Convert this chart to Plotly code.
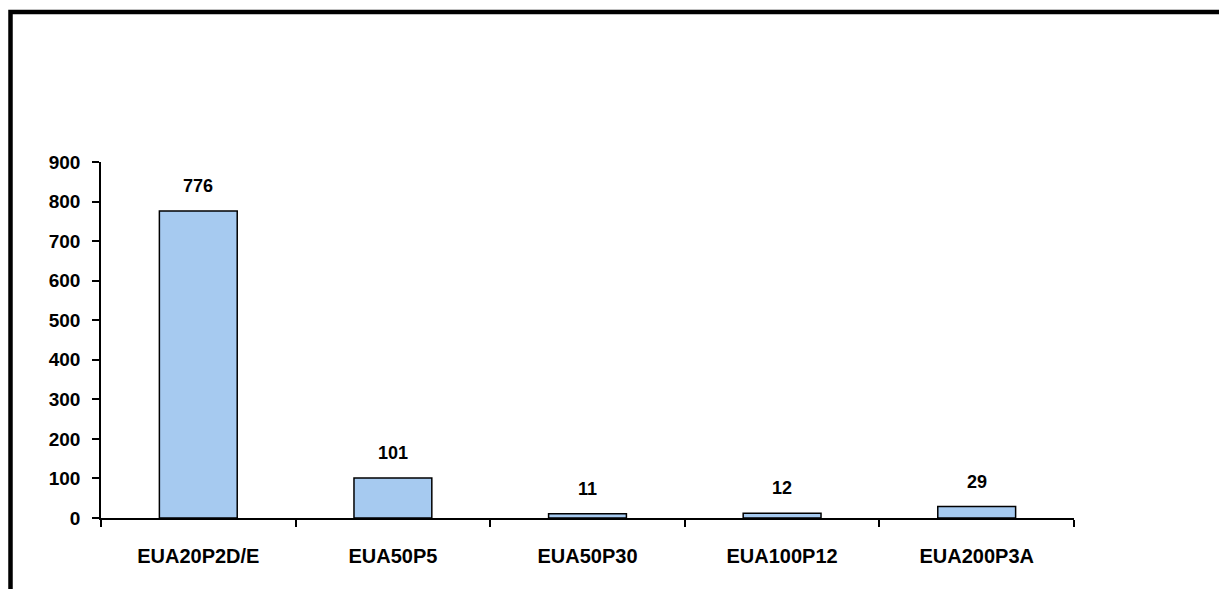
import plotly.graph_objects as go

# Chart data
categories = ["EUA20P2D/E", "EUA50P5", "EUA50P30", "EUA100P12", "EUA200P3A"]
values = [776, 101, 11, 12, 29]
y_ticks = [0, 100, 200, 300, 400, 500, 600, 700, 800, 900]

W, H = 1219, 589
L, R, T, B = 101, 145, 162, 71
FONT = "Arial, Liberation Sans, sans-serif"

fig = go.Figure()
fig.add_trace(go.Bar(
    x=categories,
    y=values,
    width=0.4,
    marker=dict(color="#A6CAF0", line=dict(color="black", width=1.5)),
    hoverinfo="skip",
))

# Value labels above each bar
for c, v in zip(categories, values):
    fig.add_annotation(
        x=c, y=v, text=f"<b>{v}</b>", showarrow=False,
        yanchor="bottom", yshift=13,
        font=dict(family=FONT, size=18, color="black"),
    )

# Outer frame around the chart (left and top edges visible)
plot_w = W - L - R
plot_h = H - T - B
def px_x(px):
    return (px - L) / plot_w
def px_y(py):
    return (H - B - py) / plot_h

fig.add_shape(
    type="rect", xref="paper", yref="paper",
    x0=px_x(10.5), x1=px_x(W + 10), y0=px_y(12), y1=px_y(H + 10),
    line=dict(color="black", width=4.5), fillcolor="rgba(0,0,0,0)",
    layer="above",
)

fig.update_layout(
    width=W, height=H,
    margin=dict(l=L, r=R, t=T, b=B, pad=0),
    paper_bgcolor="white", plot_bgcolor="white",
    showlegend=False,
    font=dict(family=FONT, color="black"),
    xaxis=dict(
        showline=True, linecolor="black", linewidth=1.5,
        ticks="outside", tickson="boundaries", ticklen=7, tickwidth=1.5,
        tickcolor="black", showgrid=False, zeroline=False,
        tickfont=dict(family=FONT, size=20, color="black"),
        ticklabelstandoff=19,
        tickprefix="<b>", ticksuffix="</b>",
        fixedrange=True,
    ),
    yaxis=dict(
        range=[0, 900], tickvals=y_ticks,
        ticktext=[f"<b>{t}</b>" for t in y_ticks],
        showline=True, linecolor="black", linewidth=1.5,
        ticks="outside", ticklen=7, tickwidth=1.5, tickcolor="black",
        showgrid=False, zeroline=False,
        tickfont=dict(family=FONT, size=19, color="black"),
        ticklabelstandoff=8,
        fixedrange=True,
    ),
)

fig.write_html("out.html")
